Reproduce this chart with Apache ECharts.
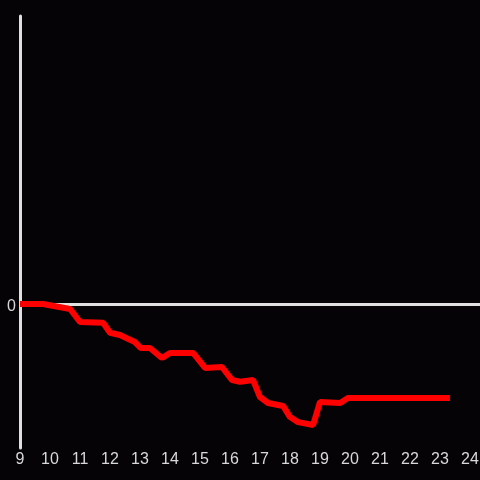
<!DOCTYPE html>
<html>
<head>
<meta charset="utf-8">
<script src="https://cdn.jsdelivr.net/npm/echarts@6/dist/echarts.min.js"></script>
<style>
html,body{margin:0;padding:0;background:#050306;}
#c{width:480px;height:480px;}
</style>
</head>
<body>
<div id="c"></div>
<script>
const hours = [9.0, 9.77, 10.67, 11.0, 11.77, 12.0, 12.33, 12.83, 13.03, 13.33, 13.73, 14.0, 14.77, 15.17, 15.73, 16.07, 16.33, 16.77, 17.0, 17.27, 17.77, 18.0, 18.27, 18.77, 19.0, 19.67, 19.93, 23.33];
const values = [0, 0, -0.035, -0.125, -0.13, -0.2, -0.215, -0.264, -0.306, -0.306, -0.375, -0.34, -0.34, -0.444, -0.4375, -0.528, -0.54, -0.528, -0.646, -0.6875, -0.708, -0.785, -0.82, -0.84, -0.68, -0.6875, -0.653, -0.653];
const yTickLabels = ['0'];

const chart = echarts.init(document.getElementById('c'));
chart.setOption({
  backgroundColor: '#050306',
  animation: false,
  grid: {left: 20, right: 0, top: 16, bottom: 32, containLabel: false, outerBoundsMode: 'none'},
  xAxis: {
    type: 'value', min: 9, max: 24.333, interval: 1,
    axisLine: {show: false}, axisTick: {show: false}, splitLine: {show: false},
    axisLabel: {
      color: '#d8d8d8', fontSize: 16, margin: 4, fontFamily: 'Liberation Sans',
      formatter: v => (Math.abs(v - Math.round(v)) < 1e-6 ? String(Math.round(v)) : '')
    }
  },
  yAxis: {
    type: 'value', min: -1, max: 2, interval: 1,
    axisLine: {show: true, lineStyle: {color: '#e0e0e0', width: 3}},
    axisTick: {show: false}, splitLine: {show: false},
    axisLabel: {
      color: '#d8d8d8', fontSize: 16, margin: 4, fontFamily: 'Liberation Sans',
      formatter: v => (yTickLabels.indexOf(String(v)) >= 0 ? '{a|' + v + '}' : ''),
      rich: {a: {color: '#d8d8d8', fontSize: 16, fontFamily: 'Liberation Sans', padding: [6, 0, 0, 0]}}
    }
  },
  series: [{
    type: 'line',
    data: hours.map((h, i) => [h, values[i]]),
    showSymbol: false,
    lineStyle: {color: '#ff0000', width: 6},
    z: 5,
    markLine: {
      silent: true, symbol: 'none', label: {show: false},
      lineStyle: {color: '#e0e0e0', width: 3, type: 'solid'},
      data: [{yAxis: 0}],
      z: 3
    }
  }]
});
</script>
</body>
</html>
